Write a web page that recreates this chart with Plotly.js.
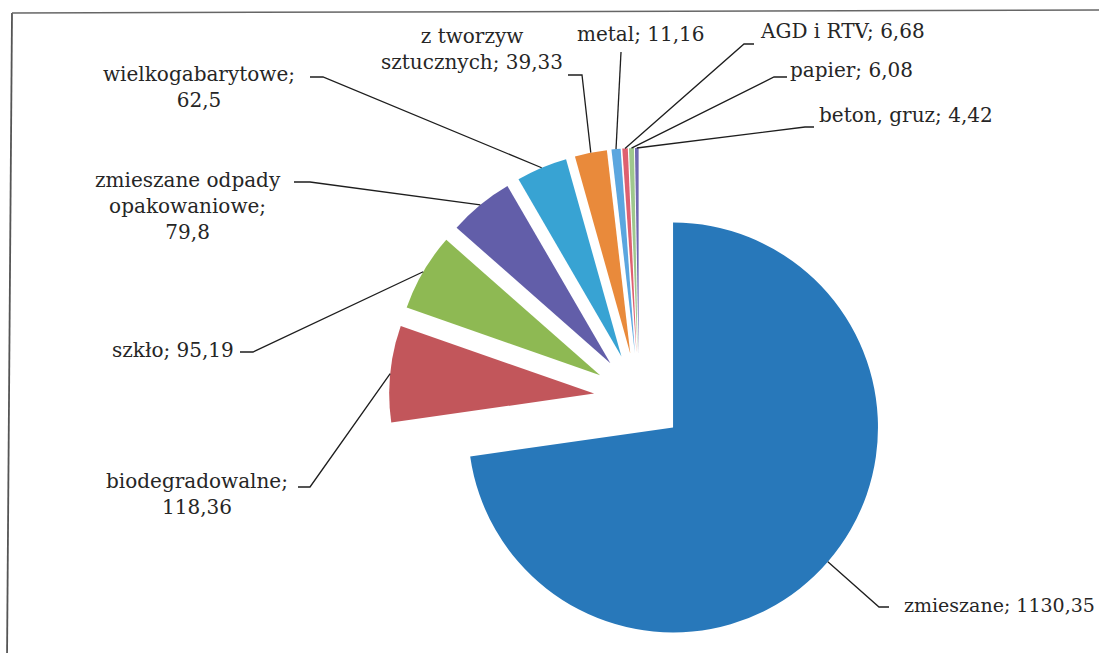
<!DOCTYPE html>
<html><head><meta charset="utf-8">
<script src="https://cdn.plot.ly/plotly-3.0.1.min.js"></script>
<style>html,body{margin:0;padding:0;background:#fff;overflow:hidden}</style>
</head><body>
<div id="chart" style="width:1099px;height:653px"></div>
<script>
// ---- data ----
const categories = ["zmieszane", "biodegradowalne", "szkło", "zmieszane odpady opakowaniowe", "wielkogabarytowe", "z tworzyw sztucznych", "metal", "AGD i RTV", "papier", "beton, gruz"];
const values = [1130.35, 118.36, 95.19, 79.8, 62.5, 39.33, 11.16, 6.68, 6.08, 4.42];

// ---- styles ----
const colors = ["#2878ba", "#c2565b", "#8eb953", "#625ea9", "#38a3d3", "#e98a3b", "#5ba6df", "#de6070", "#9fc78e", "#7069b1"];
// displayed name (with line breaks) and whether the value goes on its own line
const labelNames = ["zmieszane", "biodegradowalne", "szkło", "zmieszane odpady<br>opakowaniowe", "wielkogabarytowe", "z tworzyw<br>sztucznych", "metal", "AGD i RTV", "papier", "beton, gruz"];
const valueOnNewLine = [false, true, false, true, true, false, false, false, false, false];
// label anchor [x px, y px, xanchor]
const labelAnchor = [[1097, 605, "right"], [197, 494, "center"], [173, 350, "center"], [188, 206, "center"], [199, 87, "center"], [472, 49, "center"], [641, 34, "center"], [758, 31, "left"], [788, 70, "left"], [817, 115, "left"]];
// leader elbow [x px, y px] and stub end x px
const leaderElbow = [[879, 607, 889], [310, 487, 298], [253, 352, 240], [310, 182, 294], [323, 77, 310], [582, 75, 568], [621, 52, 621], [744, 44, 754], [774, 77, 787], [805, 127, 814]];

const W = 1099, H = 653;
const pull = 0.22;
const domX = [0.35396, 0.80892], domY = [0.007657, 0.773354];

const fmt = v => String(v).replace('.', ',');

const trace = {
  type: 'pie',
  labels: categories,
  values: values,
  sort: false,
  direction: 'clockwise',
  rotation: 0,
  pull: pull,
  textinfo: 'none',
  hoverinfo: 'none',
  marker: {colors: colors, line: {width: 0}},
  domain: {x: domX, y: domY},
  showlegend: false
};

// pie geometry (same as plotly's layout of the pie)
const boxW = W * (domX[1] - domX[0]), boxH = H * (domY[1] - domY[0]);
const r = Math.min(boxW, boxH) / (2 + 2 * pull);
const cx = W * (domX[0] + domX[1]) / 2;
const cy = H * (1 - domY[0]) - boxH / 2;
const total = values.reduce((a, b) => a + b, 0);

const px = x => x / W, py = y => 1 - y / H;
const annotations = [], shapes = [];
let cum = 0;
values.forEach((v, i) => {
  const mid = (cum + v / 2) / total * 2 * Math.PI;
  cum += v;
  const dx = Math.sin(mid), dy = -Math.cos(mid);
  const sx = cx + (1 + pull) * r * dx, sy = cy + (1 + pull) * r * dy;
  const [ex, ey, stx] = leaderElbow[i];
  shapes.push({type: 'path', xref: 'paper', yref: 'paper',
    path: `M${px(sx)},${py(sy)} L${px(ex)},${py(ey)} L${px(stx)},${py(ey)}`,
    line: {color: '#1e1e1e', width: 1.3}});
  const [ax, ay, anc] = labelAnchor[i];
  const text = labelNames[i] + ';' + (valueOnNewLine[i] ? '<br>' : ' ') + fmt(v);
  annotations.push({xref: 'paper', yref: 'paper', x: px(ax), y: py(ay), xanchor: anc, yanchor: 'middle',
    text: text, showarrow: false, align: 'center',
    font: {family: 'DejaVu Serif', size: i === 0 ? 19 : 20, color: '#262626'}});
});

// frame of the chart area
shapes.push({type: 'line', xref: 'paper', yref: 'paper', x0: px(12), y0: py(13), x1: px(7), y1: py(660), line: {color: '#555', width: 1.8}});
shapes.push({type: 'line', xref: 'paper', yref: 'paper', x0: px(12), y0: py(13), x1: px(1105), y1: py(10), line: {color: '#666', width: 1.5}});

Plotly.newPlot('chart', [trace], {
  width: W, height: H,
  margin: {l: 0, r: 0, t: 0, b: 0},
  paper_bgcolor: '#fff',
  annotations: annotations,
  shapes: shapes
}, {displayModeBar: false, staticPlot: true});
</script>
</body></html>
